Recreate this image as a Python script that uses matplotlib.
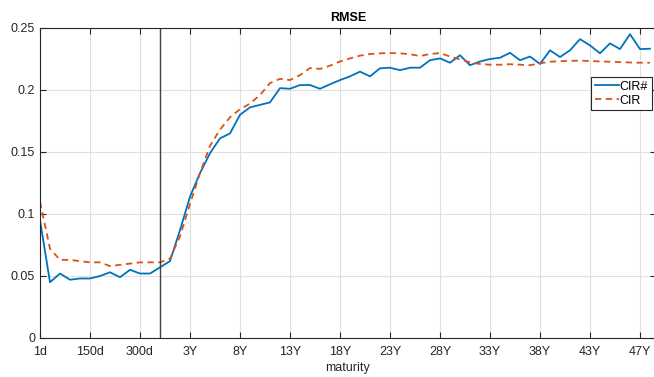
import matplotlib.pyplot as plt
import numpy as np

# RMSE per maturity (index 0..61)
cir_sharp = [0.095, 0.045, 0.052, 0.047, 0.048, 0.048, 0.050, 0.053, 0.049, 0.055,
             0.052, 0.052, 0.057, 0.062, 0.087, 0.114, 0.133, 0.149, 0.161, 0.165,
             0.180, 0.186, 0.188, 0.190, 0.2015, 0.201, 0.204, 0.204, 0.201, 0.2046,
             0.208, 0.211, 0.2148, 0.211, 0.2175, 0.218, 0.216, 0.218, 0.218, 0.224,
             0.2255, 0.222, 0.228, 0.220, 0.223, 0.225, 0.226, 0.230, 0.224, 0.227,
             0.221, 0.232, 0.2266, 0.232, 0.241, 0.236, 0.2296, 0.2376, 0.233, 0.245,
             0.233, 0.2333]
cir = [0.110, 0.072, 0.063, 0.063, 0.062, 0.061, 0.061, 0.058, 0.059, 0.060,
       0.061, 0.061, 0.061, 0.064, 0.082, 0.108, 0.133, 0.155, 0.168, 0.178,
       0.1845, 0.189, 0.196, 0.2056, 0.209, 0.208, 0.212, 0.2177, 0.217, 0.2196,
       0.223, 0.2255, 0.2277, 0.229, 0.2296, 0.2298, 0.2296, 0.2288, 0.2274, 0.229,
       0.2298, 0.227, 0.2247, 0.2223, 0.221, 0.2204, 0.2204, 0.2208, 0.2204, 0.220,
       0.2215, 0.2228, 0.2232, 0.2236, 0.2236, 0.2234, 0.223, 0.2228, 0.2225, 0.2222,
       0.222, 0.222]
tick_labels = ['1d', '150d', '300d', '3Y', '8Y', '13Y', '18Y', '23Y', '28Y',
               '33Y', '38Y', '43Y', '47Y']
split_idx = 12

plt.rcParams['font.family'] = ['Liberation Sans', 'DejaVu Sans']
plt.rcParams['font.size'] = 9

fig = plt.figure(figsize=(6.54, 3.77), dpi=100)
ax = fig.add_axes([40/654, 39/377, 616/654, 310/377])

x = np.arange(len(cir_sharp))
ax.plot(x, cir_sharp, color='#0072BD', lw=1.3, label='CIR#')
ax.plot(x, cir, color='#D95319', lw=1.3, ls=(0, (3.5, 2.5)), label='CIR')
ax.axvline(split_idx, color='#404040', lw=1)

ax.set_xlim(0, 61.6)
ax.set_ylim(0, 0.25)
ax.set_xticks(np.arange(0, 61, 5))
ax.set_xticklabels(tick_labels)
ax.set_yticks([0, 0.05, 0.1, 0.15, 0.2, 0.25])
ax.set_yticklabels(['0', '0.05', '0.1', '0.15', '0.2', '0.25'])
ax.grid(True, color='#e0e0e0', lw=0.8)
ax.set_axisbelow(True)
ax.tick_params(direction='in', length=4, top=True, right=True, colors='#262626',
               labelcolor='#262626')
ax.tick_params(axis='x', pad=6)
for s in ax.spines.values():
    s.set_color('#262626')
    s.set_linewidth(0.8)

ax.set_title('RMSE', fontweight='bold', fontsize=9, pad=5)
ax.set_xlabel('maturity', color='#262626', labelpad=3)
leg = ax.legend(loc='upper right', bbox_to_anchor=(0.9935, 0.842), borderaxespad=0,
                fancybox=False, edgecolor='#262626', framealpha=1, handlelength=1.9,
                borderpad=0.3, labelspacing=0.15, handletextpad=0.1)
leg.get_frame().set_linewidth(0.8)

fig.savefig('out.png', dpi=100)
